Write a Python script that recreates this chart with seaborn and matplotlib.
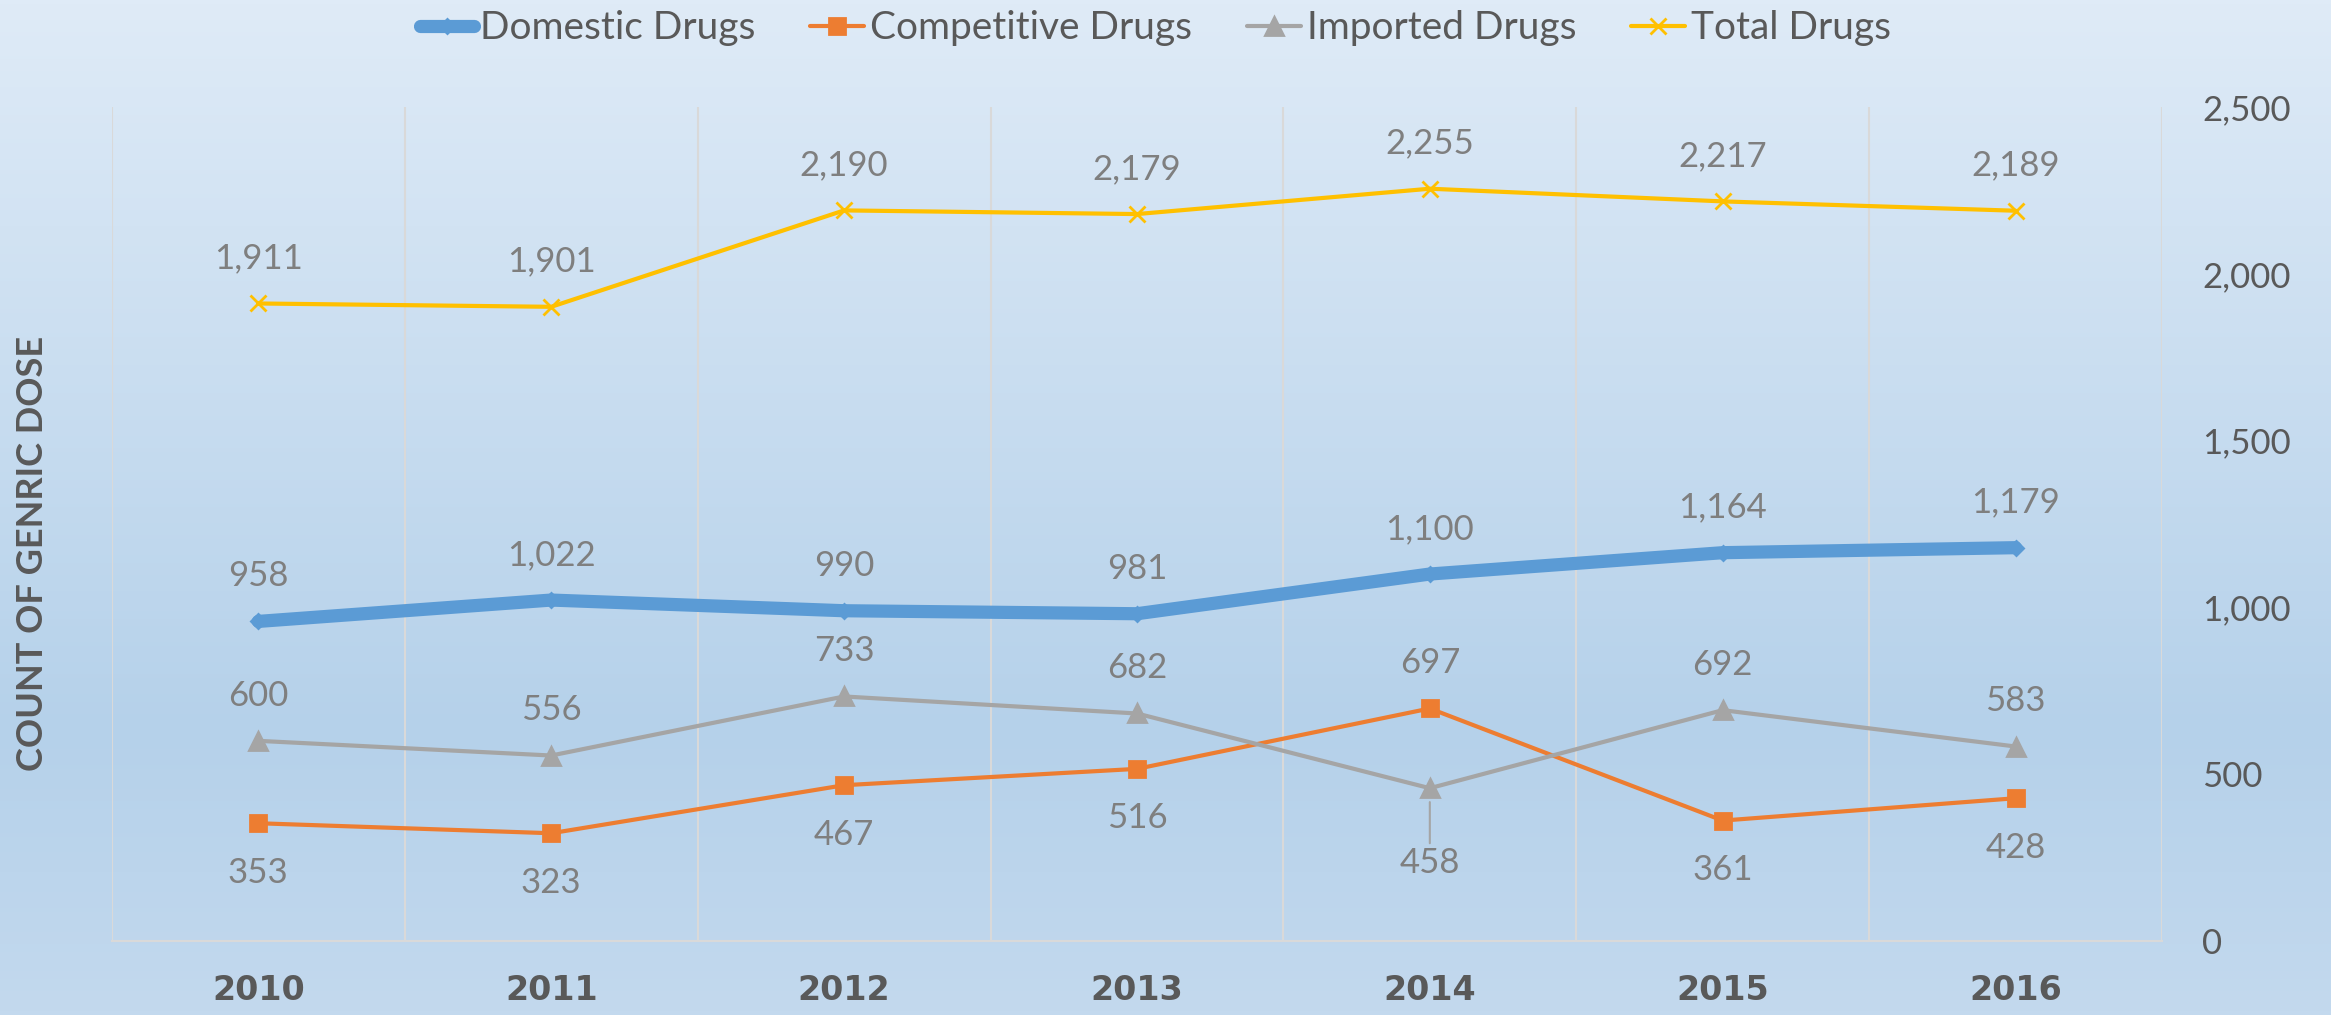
import numpy as np
import pandas as pd
import seaborn as sns
from matplotlib import pyplot as plt
from matplotlib.colors import LinearSegmentedColormap
from matplotlib.font_manager import FontProperties
from matplotlib.ticker import FuncFormatter

years = ['2010', '2011', '2012', '2013', '2014', '2015', '2016']
domestic = [958, 1022, 990, 981, 1100, 1164, 1179]
competitive = [353, 323, 467, 516, 697, 361, 428]
imported = [600, 556, 733, 682, 458, 692, 583]
total = [1911, 1901, 2190, 2179, 2255, 2217, 2189]

series_names = ['Domestic Drugs', 'Competitive Drugs', 'Imported Drugs', 'Total Drugs']
series_values = [domestic, competitive, imported, total]

sns.set_style('white')
plt.rcParams['font.family'] = 'Lato'

fig = plt.figure(figsize=(23.31, 10.15), dpi=100)

# gradient background over the whole figure
bg = fig.add_axes([0, 0, 1, 1], zorder=-10)
cmap = LinearSegmentedColormap.from_list(
    'bg', [(0, '#dfebf7'), (0.72, '#b5d1ea'), (1, '#c3d9ee')])
bg.imshow(np.linspace(0, 1, 256).reshape(-1, 1), aspect='auto', cmap=cmap,
          extent=[0, 1, 0, 1])
bg.axis('off')

ax = fig.add_axes([0.048, 0.0729, 0.8795, 0.8217])
ax.patch.set_alpha(0)

rows = []
for name, vals in zip(series_names, series_values):
    for i, v in enumerate(vals):
        rows.append({'pos': i, 'year': years[i], 'series': name, 'value': v})
df = pd.DataFrame(rows)

styles = {
    'Domestic Drugs': dict(color='#5b9bd5', lw=9.5, marker='D', ms=7),
    'Competitive Drugs': dict(color='#ed7d31', lw=3, marker='s', ms=12),
    'Imported Drugs': dict(color='#a5a5a5', lw=3, marker='^', ms=13),
    'Total Drugs': dict(color='#ffc000', lw=3, marker='x', ms=12),
}

for name in series_names:
    st = styles[name]
    sub = df[df['series'] == name]
    sns.lineplot(data=sub, x='pos', y='value', ax=ax, color=st['color'],
                 linewidth=st['lw'], marker=st['marker'], markersize=st['ms'],
                 markeredgecolor=st['color'], markeredgewidth=2,
                 label=name, legend=False, zorder=3)

# data labels
label_kw = dict(color='#7f7f7f', fontsize=25, ha='center')
below = {'Competitive Drugs': [0, 1, 2, 3, 5, 6], 'Imported Drugs': [4]}
for name, vals in zip(series_names, series_values):
    for i, v in enumerate(vals):
        if i in below.get(name, []):
            if name == 'Imported Drugs':
                ax.annotate(f'{v:,}', xy=(i, v), xytext=(0, -42),
                            textcoords='offset points', va='top',
                            arrowprops=dict(arrowstyle='-', color='#a5a5a5', lw=1.5,
                                            shrinkA=0, shrinkB=10),
                            **label_kw)
            else:
                ax.annotate(f'{v:,}', xy=(i, v), xytext=(0, -24),
                            textcoords='offset points', va='top', **label_kw)
        else:
            ax.annotate(f'{v:,}', xy=(i, v), xytext=(0, 21),
                        textcoords='offset points', va='bottom', **label_kw)

ax.set_xlim(-0.5, 6.5)
ax.set_ylim(0, 2500)
ax.set_xticks(range(len(years)))
xfont = FontProperties(family='DejaVu Sans', weight='bold', size=24)
ax.set_xticklabels(years, fontproperties=xfont, color='#595959')
ax.set_xticks(np.arange(-0.5, 7, 1), minor=True)
ax.grid(False)
ax.grid(which='minor', axis='x', color='#d9d9d9', linewidth=1.5)
ax.tick_params(axis='x', which='both', length=0, pad=24)

ax.yaxis.tick_right()
ax.set_yticks(range(0, 2501, 500))
ax.yaxis.set_major_formatter(FuncFormatter(lambda v, p: f'{int(v):,}'))
ax.tick_params(axis='y', length=0, pad=29, labelsize=25, labelcolor='#595959')
ax.set_xlabel('')
ax.set_ylabel('')

for s in ['top', 'left', 'right']:
    ax.spines[s].set_visible(False)
ax.spines['bottom'].set_color('#d9d9d9')
ax.spines['bottom'].set_linewidth(1.5)

fig.text(0.014, 0.455, 'COUNT OF GENRIC DOSE', rotation=90, ha='center', va='center',
         fontsize=26, fontweight='bold', color='#595959')

handles, labels = ax.get_legend_handles_labels()
fig.legend(handles, labels, loc='center', bbox_to_anchor=(0.4957, 0.972), ncol=4,
           frameon=False, handlelength=1.4, handletextpad=0.15, columnspacing=1.4,
           prop={'size': 28}, labelcolor='#595959')

fig.savefig('out.png', dpi=100)
